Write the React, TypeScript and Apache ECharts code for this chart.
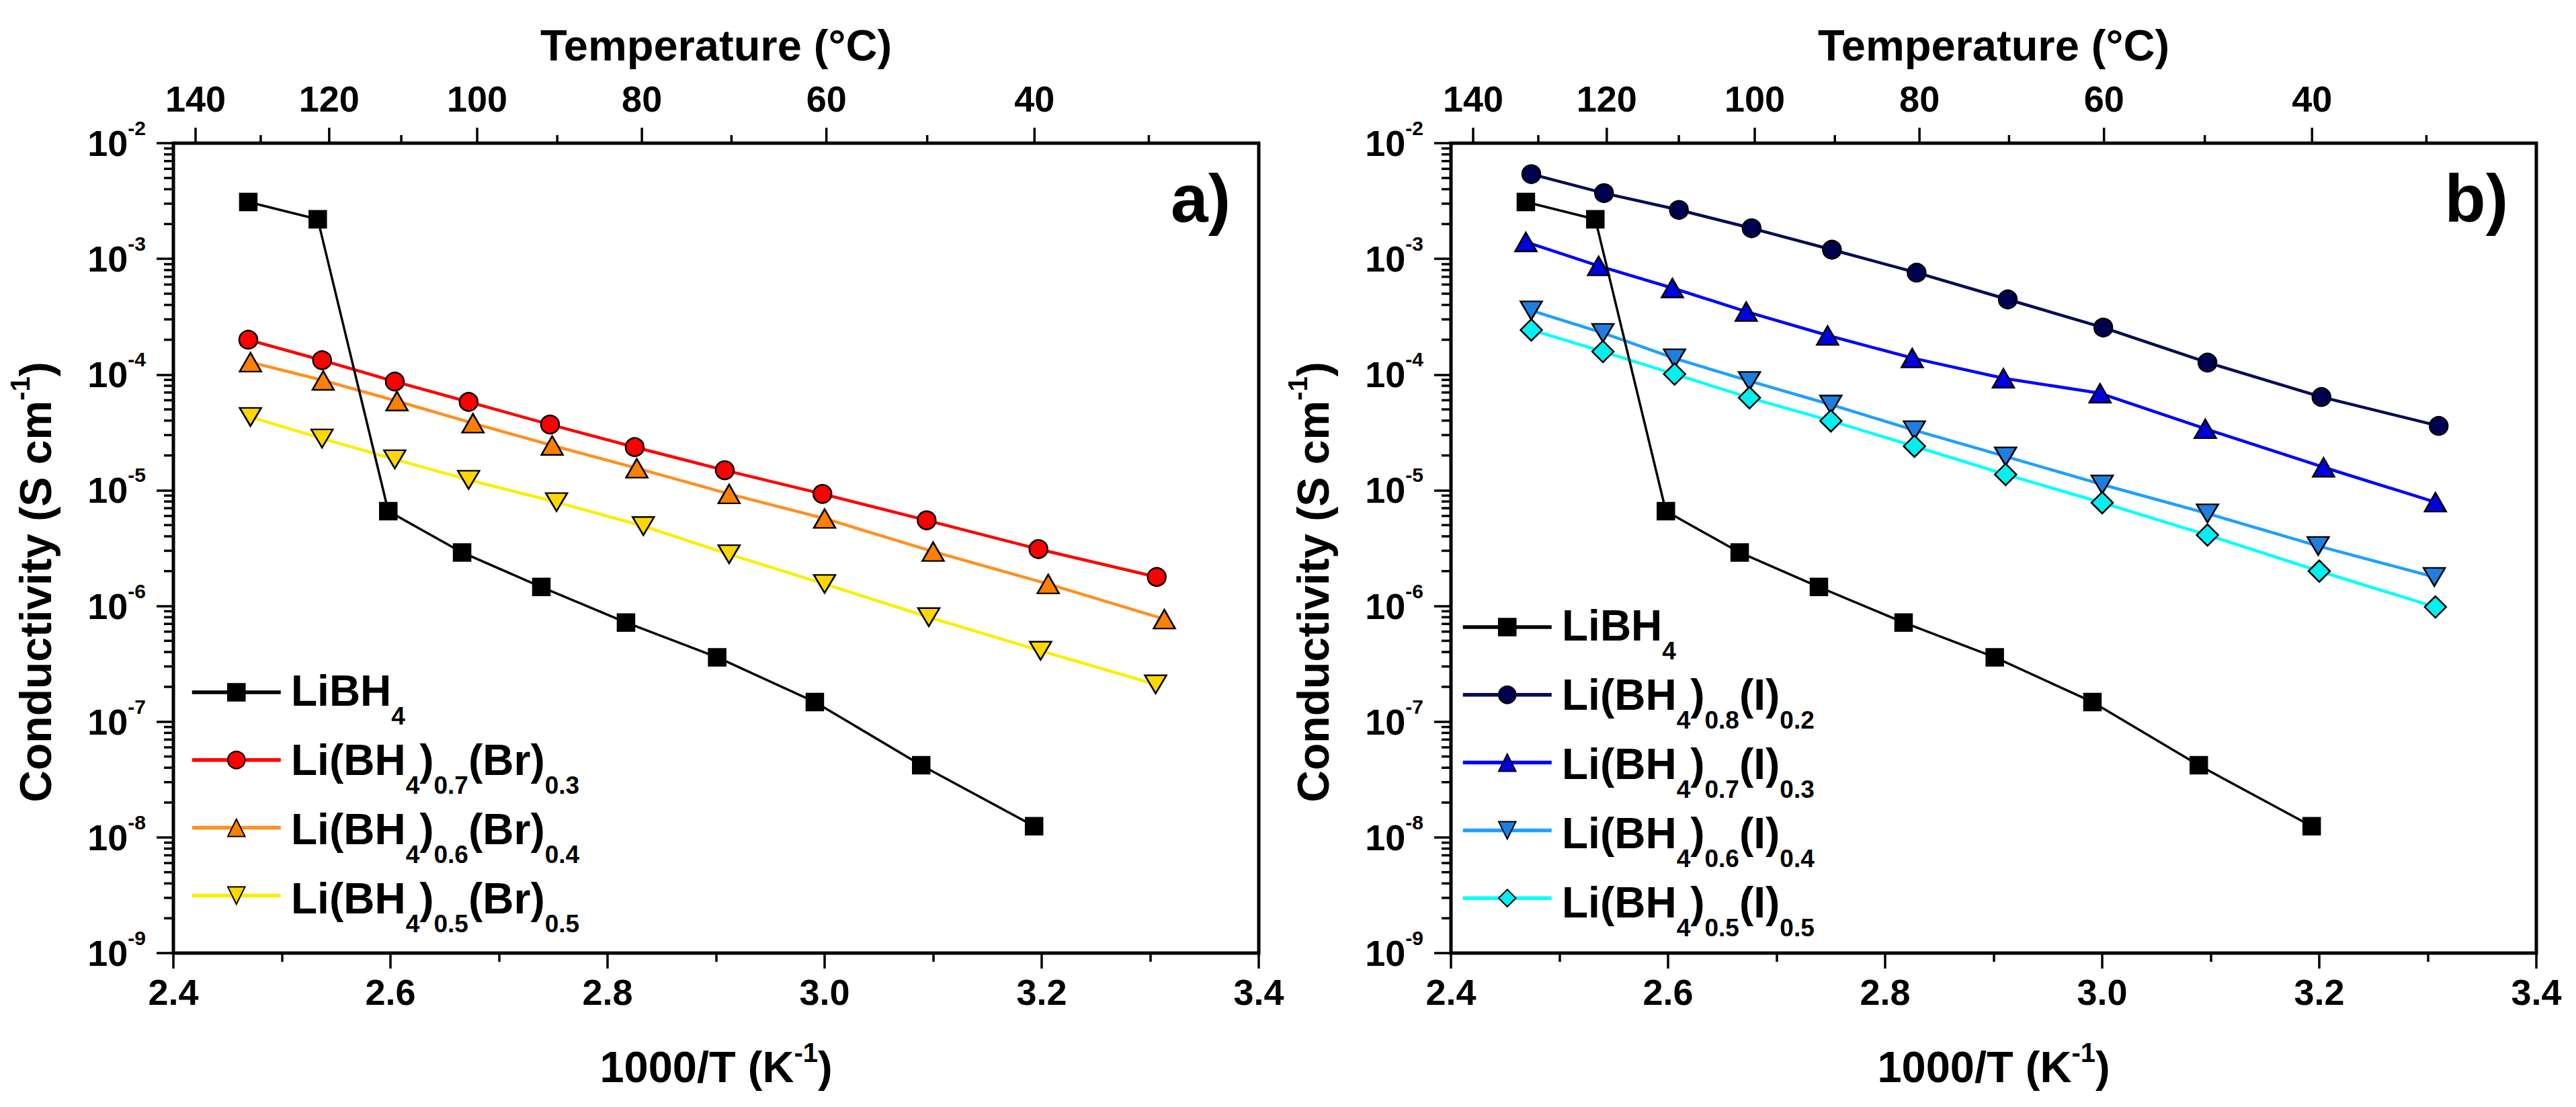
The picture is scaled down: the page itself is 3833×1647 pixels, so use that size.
import React, { useEffect, useRef } from 'react';
import * as echarts from 'echarts';

// ---------- axes ----------
const X_MIN = 2.4;
const X_MAX = 3.4;
const X_STEP = 0.2;
const Y_MIN = 1e-9;
const Y_MAX = 1e-2;
const TEMP_MAJOR = [140, 120, 100, 80, 60, 40];
const TEMP_MINOR = [130, 110, 90, 70, 50, 30];
const Y_MINOR_MANTISSA = [2, 3, 4, 5, 6, 7, 8, 9];
const Y_DECADES = [-9, -8, -7, -6, -5, -4, -3];

// ---------- data (1000/T in K^-1, conductivity in S cm^-1) ----------
const LIBH4_X = [2.469, 2.533, 2.598, 2.666, 2.739, 2.817, 2.901, 2.991, 3.089, 3.193];
const LIBH4_Y = [3.1e-3, 2.2e-3, 6.6e-6, 2.9e-6, 1.46e-6, 7.2e-7, 3.6e-7, 1.48e-7, 4.2e-8, 1.25e-8];

const BR03_X = [2.469, 2.537, 2.604, 2.672, 2.747, 2.825, 2.908, 2.998, 3.094, 3.197, 3.306];
const BR03_Y = [2.0e-4, 1.33e-4, 8.7e-5, 5.8e-5, 3.7e-5, 2.36e-5, 1.49e-5, 9.3e-6, 5.5e-6, 3.1e-6, 1.78e-6];

const BR04_X = [2.471, 2.538, 2.606, 2.676, 2.749, 2.827, 2.912, 3.0, 3.1, 3.206, 3.313];
const BR04_Y = [1.28e-4, 8.9e-5, 5.9e-5, 3.8e-5, 2.44e-5, 1.55e-5, 9.3e-6, 5.7e-6, 2.95e-6, 1.55e-6, 7.7e-7];

const BR05_X = [2.471, 2.537, 2.604, 2.672, 2.753, 2.833, 2.912, 3.0, 3.096, 3.199, 3.305];
const BR05_Y = [4.3e-5, 2.8e-5, 1.85e-5, 1.23e-5, 7.9e-6, 4.9e-6, 2.8e-6, 1.55e-6, 8.0e-7, 4.1e-7, 2.1e-7];

const I02_X = [2.474, 2.541, 2.61, 2.677, 2.751, 2.829, 2.913, 3.001, 3.097, 3.202, 3.31];
const I02_Y = [5.4e-3, 3.7e-3, 2.65e-3, 1.84e-3, 1.2e-3, 7.6e-4, 4.46e-4, 2.55e-4, 1.27e-4, 6.4e-5, 3.6e-5];

const I03_X = [2.469, 2.536, 2.604, 2.672, 2.747, 2.825, 2.909, 2.998, 3.095, 3.204, 3.307];
const I03_Y = [1.4e-3, 8.7e-4, 5.6e-4, 3.5e-4, 2.18e-4, 1.39e-4, 9.3e-5, 6.9e-5, 3.4e-5, 1.58e-5, 7.9e-6];

const I04_X = [2.474, 2.54, 2.606, 2.675, 2.75, 2.827, 2.911, 3.0, 3.097, 3.199, 3.306];
const I04_Y = [3.58e-4, 2.29e-4, 1.38e-4, 8.8e-5, 5.5e-5, 3.3e-5, 1.96e-5, 1.12e-5, 6.3e-6, 3.3e-6, 1.78e-6];

const I05_X = [2.474, 2.54, 2.606, 2.675, 2.75, 2.827, 2.911, 3.0, 3.097, 3.2, 3.307];
const I05_Y = [2.43e-4, 1.58e-4, 1.01e-4, 6.3e-5, 3.98e-5, 2.4e-5, 1.37e-5, 7.8e-6, 4.1e-6, 2.0e-6, 9.8e-7];

const N_LIBH4 = 'LiBH4';
const N_BR03 = 'Li(BH4)0.7(Br)0.3';
const N_BR04 = 'Li(BH4)0.6(Br)0.4';
const N_BR05 = 'Li(BH4)0.5(Br)0.5';
const N_I02 = 'Li(BH4)0.8(I)0.2';
const N_I03 = 'Li(BH4)0.7(I)0.3';
const N_I04 = 'Li(BH4)0.6(I)0.4';
const N_I05 = 'Li(BH4)0.5(I)0.5';

const LEGEND_A = [N_LIBH4, N_BR03, N_BR04, N_BR05];
const LEGEND_B = [N_LIBH4, N_I02, N_I03, N_I04, N_I05];

const TITLE_X = '1000/T (K{u|-1})';
const TITLE_Y = 'Conductivity (S cm{u|-1})';
const TITLE_TOP = 'Temperature (°C)';
const PANEL_LABELS = ['a)', 'b)'];

const FONT = '"Liberation Sans", Arial, Helvetica, sans-serif';
const K_CENTRAL = 0.3465; // (ascent - descent) / 2 for Liberation Sans

// ---------- layout ----------
const GRID_LEFTS = [258, 2159];
const GRID_TOP = 213;
const GRID_W = 1615;
const GRID_H = 1205;
const LEGEND_ICON_LEFT = [283, 2174];
const LEGEND_FIRST_ROW = [1030, 933];
const LEGEND_ROW_STEP = 103;

function toMarkup(name: string): string {
  return name.replace(/H4/, 'H{s|4}').replace(/\)(\d\.\d)/g, '){s|$1}');
}

type Piece = { t: string; kind: string };
function parsePieces(markup: string): Piece[] {
  const out: Piece[] = [];
  const re = /\{(s|u)\|([^}]*)\}/g;
  let last = 0;
  let m: RegExpExecArray | null;
  while ((m = re.exec(markup))) {
    if (m.index > last) out.push({ t: markup.slice(last, m.index), kind: 'm' });
    out.push({ t: m[2], kind: m[1] });
    last = re.lastIndex;
  }
  if (last < markup.length) out.push({ t: markup.slice(last), kind: 'm' });
  return out;
}

type Typo = { main: number; small: number; drop: number; raise: number };

function measure(ctx: CanvasRenderingContext2D, t: string, fs: number) {
  ctx.font = 'bold ' + fs + 'px ' + FONT;
  return ctx.measureText(t).width;
}

function piecesWidth(ctx: CanvasRenderingContext2D, pieces: Piece[], ty: Typo) {
  return pieces.reduce((w, p) => w + measure(ctx, p.t, p.kind === 'm' ? ty.main : ty.small), 0);
}

// text pieces laid out on a baseline (main / subscript / superscript)
function pieceTexts(ctx: CanvasRenderingContext2D, pieces: Piece[], x0: number, baseline: number, ty: Typo) {
  let x = x0;
  return pieces.map((p) => {
    const fs = p.kind === 'm' ? ty.main : ty.small;
    const b = p.kind === 's' ? baseline + ty.drop : p.kind === 'u' ? baseline - ty.raise : baseline;
    const el = {
      type: 'text',
      x,
      y: b - K_CENTRAL * fs,
      silent: true,
      style: {
        text: p.t,
        fill: '#000',
        fontSize: fs,
        fontWeight: 'bold',
        fontFamily: FONT,
        align: 'left',
        verticalAlign: 'middle',
        textAlign: 'left',
        textVerticalAlign: 'middle',
      },
    };
    x += measure(ctx, p.t, fs);
    return el;
  });
}

type Sty = {
  symbol: string;
  size: number | number[];
  rotate?: number;
  fill: string;
  line: string;
  width: number;
};

const STY_LIBH4: Sty = { symbol: 'rect', size: 25, fill: '#000000', line: '#000000', width: 3.5 };
const STY_BR03: Sty = { symbol: 'circle', size: 27, fill: '#FF0000', line: '#FF0000', width: 4.5 };
const STY_BR04: Sty = { symbol: 'triangle', size: [32, 28], fill: '#FF8000', line: '#FF9020', width: 4.5 };
const STY_BR05: Sty = { symbol: 'triangle', size: [32, 27], rotate: 180, fill: '#FFD700', line: '#F8F000', width: 4.5 };
const STY_I02: Sty = { symbol: 'circle', size: 27, fill: '#000050', line: '#0A0A55', width: 4.5 };
const STY_I03: Sty = { symbol: 'triangle', size: [32, 28], fill: '#0000E0', line: '#0000FF', width: 4.5 };
const STY_I04: Sty = { symbol: 'triangle', size: [32, 27], rotate: 180, fill: '#1E7FE0', line: '#1EA0FF', width: 4.5 };
const STY_I05: Sty = { symbol: 'diamond', size: [32, 32], fill: '#00F0F0', line: '#00FFFF', width: 4.5 };

function lineSeries(name: string, xs: number[], ys: number[], grid: number, s: Sty, z: number) {
  return {
    type: 'line',
    name,
    xAxisIndex: grid * 2,
    yAxisIndex: grid,
    data: xs.map((x, i) => [x, ys[i]]),
    symbol: s.symbol,
    symbolSize: s.size,
    symbolRotate: s.rotate || 0,
    showSymbol: true,
    showAllSymbol: true,
    itemStyle: { color: s.fill, borderColor: '#000', borderWidth: 2.5 },
    lineStyle: { color: s.line, width: s.width },
    emphasis: { disabled: true },
    silent: true,
    z,
  };
}

function tempTickSeries(grid: number) {
  const ticks = [
    ...TEMP_MAJOR.map((t) => [1000 / (t + 273.15), Y_MAX, t, 1]),
    ...TEMP_MINOR.map((t) => [1000 / (t + 273.15), Y_MAX, t, 0]),
  ];
  return {
    type: 'custom',
    xAxisIndex: grid * 2,
    yAxisIndex: grid,
    clip: false,
    silent: true,
    z: 10,
    data: ticks,
    renderItem: (_p: any, api: any) => {
      const p = api.coord([api.value(0), api.value(1)]);
      const major = api.value(3) === 1;
      const len = major ? 23 : 12;
      const children: any[] = [
        {
          type: 'line',
          shape: { x1: p[0], y1: p[1], x2: p[0], y2: p[1] - len },
          style: { stroke: '#000', lineWidth: 3.5 },
        },
      ];
      if (major) {
        children.push({
          type: 'text',
          x: p[0],
          y: p[1] - 66,
          style: {
            text: String(api.value(2)),
            fill: '#000',
            fontSize: 54,
            fontWeight: 'bold',
            fontFamily: FONT,
            align: 'center',
            verticalAlign: 'middle',
            textAlign: 'center',
            textVerticalAlign: 'middle',
          },
        });
      }
      return { type: 'group', children };
    },
  };
}

function yMinorSeries(grid: number) {
  const vals: number[][] = [];
  Y_DECADES.forEach((e) => Y_MINOR_MANTISSA.forEach((m) => vals.push([X_MIN, m * Math.pow(10, e)])));
  return {
    type: 'custom',
    xAxisIndex: grid * 2,
    yAxisIndex: grid,
    clip: false,
    silent: true,
    z: 10,
    data: vals,
    renderItem: (_p: any, api: any) => {
      const p = api.coord([api.value(0), api.value(1)]);
      return {
        type: 'line',
        shape: { x1: p[0], y1: p[1], x2: p[0] - 14, y2: p[1] },
        style: { stroke: '#000', lineWidth: 3.5 },
      };
    },
  };
}

function xAxes(grid: number) {
  return [
    {
      type: 'value',
      gridIndex: grid,
      position: 'bottom',
      min: X_MIN,
      max: X_MAX,
      interval: X_STEP,
      axisLine: { show: false },
      axisTick: { show: true, inside: false, length: 23, lineStyle: { color: '#000', width: 3.5 } },
      minorTick: { show: true, splitNumber: 2, length: 13, lineStyle: { color: '#000', width: 3.5 } },
      splitLine: { show: false },
      axisLabel: {
        margin: 31,
        fontSize: 54,
        fontWeight: 'bold',
        fontFamily: FONT,
        color: '#000',
        formatter: (v: number) => v.toFixed(1),
      },
    },
    {
      type: 'value',
      gridIndex: grid,
      position: 'top',
      min: X_MIN,
      max: X_MAX,
      axisLine: { show: false },
      axisTick: { show: false },
      axisLabel: { show: false },
      splitLine: { show: false },
      name: TITLE_TOP,
      nameLocation: 'middle',
      nameGap: 113,
      nameTextStyle: { fontSize: 65, fontWeight: 'bold', fontFamily: FONT, color: '#000' },
    },
  ];
}

function yAxis(grid: number) {
  return {
    type: 'log',
    gridIndex: grid,
    logBase: 10,
    min: Y_MIN,
    max: Y_MAX,
    axisLine: { show: false },
    axisTick: { show: true, inside: false, length: 25, lineStyle: { color: '#000', width: 3.5 } },
    splitLine: { show: false },
    axisLabel: {
      margin: 41,
      fontSize: 54,
      fontWeight: 'bold',
      fontFamily: FONT,
      color: '#000',
      formatter: (v: number) => '10{sup|' + Math.round(Math.log10(v)) + '}',
      rich: { sup: { fontSize: 30, fontWeight: 'bold', fontFamily: FONT, color: '#000', padding: [0, 0, 45, 0] } },
    },
  };
}

function legend(i: number, data: string[]) {
  return {
    orient: 'vertical',
    left: LEGEND_ICON_LEFT[i],
    top: LEGEND_FIRST_ROW[i] - 16,
    padding: 0,
    itemWidth: 132,
    itemHeight: 32,
    itemGap: LEGEND_ROW_STEP - 32,
    selectedMode: false,
    data,
    formatter: () => '',
    lineStyle: { width: 5.5 },
    textStyle: { fontSize: 10 },
  };
}

const LEGEND_TYPO: Typo = { main: 64, small: 37, drop: 28, raise: 0 };
const TITLE_TYPO: Typo = { main: 65, small: 40, drop: 0, raise: 30 };
const YTITLE_TYPO: Typo = { main: 66, small: 40, drop: 0, raise: 32 };

function buildGraphic(ctx: CanvasRenderingContext2D) {
  const els: any[] = [];
  // panel labels
  PANEL_LABELS.forEach((t, i) => {
    els.push({
      type: 'text',
      x: GRID_LEFTS[i] + GRID_W - 42,
      y: 295,
      silent: true,
      style: {
        text: t,
        fill: '#000',
        fontSize: 100,
        fontWeight: 'bold',
        fontFamily: FONT,
        align: 'right',
        verticalAlign: 'middle',
        textAlign: 'right',
        textVerticalAlign: 'middle',
      },
    });
  });
  // legend labels with subscripts
  [LEGEND_A, LEGEND_B].forEach((names, i) => {
    names.forEach((n, r) => {
      const pieces = parsePieces(toMarkup(n));
      const baseline = LEGEND_FIRST_ROW[i] + r * LEGEND_ROW_STEP + 20;
      els.push(...pieceTexts(ctx, pieces, LEGEND_ICON_LEFT[i] + 150, baseline, LEGEND_TYPO));
    });
  });
  // bottom axis titles
  const xp = parsePieces(TITLE_X);
  const xw = piecesWidth(ctx, xp, TITLE_TYPO);
  GRID_LEFTS.forEach((l) => {
    els.push(...pieceTexts(ctx, xp, l + GRID_W / 2 - xw / 2, 1610, TITLE_TYPO));
  });
  // rotated y axis titles
  const yp = parsePieces(TITLE_Y);
  const yw = piecesWidth(ctx, yp, YTITLE_TYPO);
  GRID_LEFTS.forEach((l) => {
    els.push({
      type: 'group',
      x: l - 182,
      y: 866,
      rotation: Math.PI / 2,
      silent: true,
      children: pieceTexts(ctx, yp, -yw / 2, 0, YTITLE_TYPO),
    });
  });
  return els;
}

function buildOption(ctx: CanvasRenderingContext2D) {
  return {
    animation: false,
    backgroundColor: '#fff',
    grid: GRID_LEFTS.map((l) => ({
      left: l,
      top: GRID_TOP,
      width: GRID_W,
      height: GRID_H,
      show: true,
      borderColor: '#000',
      borderWidth: 5,
      backgroundColor: 'transparent',
    })),
    xAxis: [...xAxes(0), ...xAxes(1)],
    yAxis: [yAxis(0), yAxis(1)],
    legend: [legend(0, LEGEND_A), legend(1, LEGEND_B)],
    graphic: buildGraphic(ctx),
    series: [
      tempTickSeries(0),
      yMinorSeries(0),
      lineSeries(N_BR03, BR03_X, BR03_Y, 0, STY_BR03, 3),
      lineSeries(N_BR04, BR04_X, BR04_Y, 0, STY_BR04, 3),
      lineSeries(N_BR05, BR05_X, BR05_Y, 0, STY_BR05, 3),
      lineSeries(N_LIBH4, LIBH4_X, LIBH4_Y, 0, STY_LIBH4, 4),
      tempTickSeries(1),
      yMinorSeries(1),
      lineSeries(N_I02, I02_X, I02_Y, 1, STY_I02, 3),
      lineSeries(N_I03, I03_X, I03_Y, 1, STY_I03, 3),
      lineSeries(N_I04, I04_X, I04_Y, 1, STY_I04, 3),
      lineSeries(N_I05, I05_X, I05_Y, 1, STY_I05, 3),
      lineSeries(N_LIBH4, LIBH4_X, LIBH4_Y, 1, STY_LIBH4, 4),
    ],
  };
}

export default function App() {
  const ref = useRef<HTMLDivElement>(null);
  useEffect(() => {
    if (!ref.current) return;
    const ctx = document.createElement('canvas').getContext('2d') as CanvasRenderingContext2D;
    const chart = echarts.init(ref.current, null, { renderer: 'svg' });
    chart.setOption(buildOption(ctx) as any);
    return () => chart.dispose();
  }, []);
  return (
    <div
      ref={ref}
      style={{ position: 'absolute', left: 0, top: 0, width: 3833, height: 1647, background: '#fff' }}
    />
  );
}
